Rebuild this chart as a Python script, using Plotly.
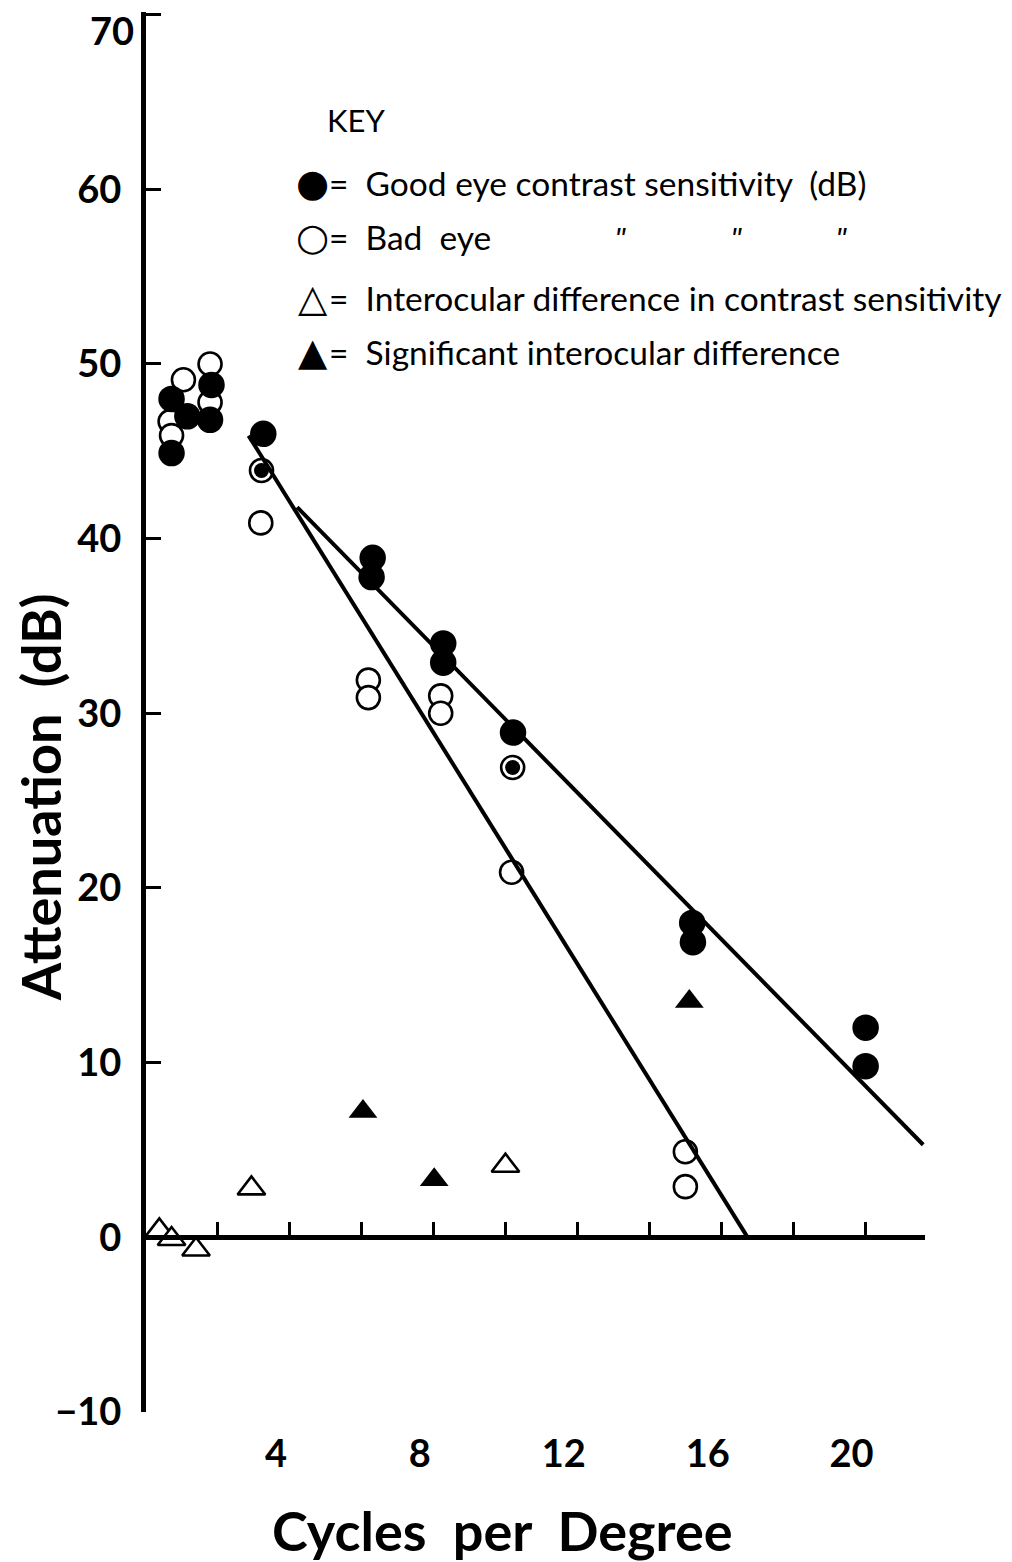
import plotly.graph_objects as go

# ---------------- data ----------------
# Good eye contrast sensitivity (dB)
good_x = [0.71, 0.71, 1.15, 1.82, 1.78, 3.26, 3.21, 6.30, 6.27, 8.26, 8.26,
          10.20, 10.19, 15.18, 15.20, 20.00, 20.00]
good_y = [44.9, 48.0, 47.0, 48.8, 46.8, 46.0, 43.9, 38.9, 37.8, 34.0, 32.9,
          28.9, 26.9, 18.0, 16.9, 12.0, 9.8]

# Bad eye contrast sensitivity (dB)
bad_x = [0.67, 0.71, 1.04, 1.78, 1.78, 3.21, 3.19, 6.18, 6.18, 8.19, 8.19,
         10.19, 10.16, 14.99, 14.99]
bad_y = [46.7, 45.9, 49.1, 50.0, 47.8, 43.9, 40.9, 31.9, 30.9, 31.0, 30.0,
         26.9, 20.9, 4.9, 2.9]

# Interocular difference in contrast sensitivity (not significant)
diff_x = [0.37, 0.71, 1.39, 2.93, 9.99]
diff_y = [0.4, -0.1, -0.7, 2.8, 4.1]

# Significant interocular difference
sig_x = [6.03, 8.01, 15.10]
sig_y = [7.2, 3.3, 13.5]

# Fitted regression lines (end points)
good_fit_x = [4.2, 21.6]
good_fit_y = [41.8, 5.3]
bad_fit_x = [2.85, 16.72]
bad_fit_y = [45.9, 0.0]

# Axis ticks
x_label_vals = [4, 8, 12, 16, 20]
x_tick_marks = [2, 4, 6, 8, 10, 12, 14, 16, 18, 20]
y_tick_vals = [-10, 0, 10, 20, 30, 40, 50, 60, 70]
y_top_label = 70          # top label sits a little below its tick in the original

x_range = [0, 21.65]
y_range = [-10, 70.15]

# Key text
key_title = "KEY"
key_rows = [
    ("\u25CF", "=  Good eye contrast sensitivity  (dB)"),
    ("\u25CB", "=  Bad  eye"),
    ("\u25B3", "=  Interocular difference in contrast sensitivity"),
    ("\u25B2", "=  Significant interocular difference"),
]
ditto = "\u02BA"

# ---------------- geometry ----------------
PAGE = 8                      # default body margin of the html page
W, H = 1012 - PAGE, 1562 - PAGE
X0_PX, PX_PER_X = 146, 36.0   # page pixel of x = 0, pixels per cycle/deg
Y0_PX, PX_PER_Y = 1237, 17.46 # page pixel of y = 0, pixels per dB

ML = X0_PX - PAGE
PW = (x_range[1] - x_range[0]) * PX_PER_X
MR = W - ML - PW
top_px = Y0_PX - y_range[1] * PX_PER_Y
bot_px = Y0_PX - y_range[0] * PX_PER_Y
MT = top_px - PAGE
PH = bot_px - top_px
MB = H - MT - PH


def paper(px, py):
    """page pixel -> paper fraction"""
    return (px - PAGE - ML) / PW, (PAGE + MT + PH - py) / PH


FONT = "Lato"
BLACK = "black"
TICK_FONT = dict(family=FONT, size=38, color=BLACK, weight="bold")

fig = go.Figure()

# fitted lines (drawn on the overlaid x-axis that sits at y = 0)
fig.add_trace(go.Scatter(x=bad_fit_x, y=bad_fit_y, mode="lines", xaxis="x2",
                         line=dict(color=BLACK, width=4), showlegend=False,
                         hoverinfo="skip"))
fig.add_trace(go.Scatter(x=good_fit_x, y=good_fit_y, mode="lines", xaxis="x2",
                         line=dict(color=BLACK, width=4), showlegend=False,
                         hoverinfo="skip"))

# bad eye: open circles
fig.add_trace(go.Scatter(x=bad_x, y=bad_y, mode="markers", name="Bad eye",
                         marker=dict(symbol="circle", size=23, color="white",
                                     opacity=1,
                                     line=dict(color=BLACK, width=2.6)),
                         showlegend=False))

# good eye: filled circles (smaller dot where it coincides with the bad eye)
coincide = set(zip(bad_x, bad_y))
good_sizes = [15 if (x, y) in coincide else 26.5 for x, y in zip(good_x, good_y)]
fig.add_trace(go.Scatter(x=good_x, y=good_y, mode="markers", name="Good eye",
                         marker=dict(symbol="circle", size=good_sizes, color=BLACK,
                                     opacity=1, line=dict(width=0)),
                         showlegend=False))

# interocular difference: open triangles
fig.add_trace(go.Scatter(x=diff_x, y=diff_y, mode="markers",
                         name="Interocular difference",
                         marker=dict(symbol="triangle-up", size=24, color="white",
                                     opacity=1,
                                     line=dict(color=BLACK, width=2.6)),
                         showlegend=False))

# significant difference: filled triangles
fig.add_trace(go.Scatter(x=sig_x, y=sig_y, mode="markers",
                         name="Significant interocular difference",
                         marker=dict(symbol="triangle-up", size=25, color=BLACK,
                                     opacity=1, line=dict(width=0)),
                         showlegend=False))

annotations = []

# axis titles
ax, ay = paper(40, 797)
annotations.append(dict(text="Attenuation  (dB)", x=ax, y=ay, xref="paper", yref="paper",
                        textangle=-90, showarrow=False, xanchor="center", yanchor="middle",
                        font=dict(family=FONT, size=54, color=BLACK, weight="bold")))
ax, ay = paper(503, 1530)
annotations.append(dict(text="Cycles  per  Degree", x=ax, y=ay, xref="paper", yref="paper",
                        showarrow=False, xanchor="center", yanchor="middle",
                        font=dict(family=FONT, size=54, color=BLACK, weight="bold")))

# top y label (drawn slightly below its tick, as in the original)
ax, _ = paper(136, 0)
annotations.append(dict(text=str(y_top_label), x=ax, y=y_top_label, xref="paper", yref="y",
                        yshift=-15, showarrow=False, xanchor="right", yanchor="middle",
                        font=TICK_FONT))

# key
ax, ay = paper(325, 120)
annotations.append(dict(text=key_title, x=ax, y=ay, xref="paper", yref="paper",
                        showarrow=False, xanchor="left", yanchor="middle",
                        font=dict(family=FONT, size=31, color=BLACK)))
row_y = [183, 237, 298, 352]
for (glyph, label), ry in zip(key_rows, row_y):
    gx, gy = paper(313, ry)
    annotations.append(dict(text=glyph, x=gx, y=gy, xref="paper", yref="paper",
                            showarrow=False, xanchor="center", yanchor="middle",
                            font=dict(family="DejaVu Sans", size=38, color=BLACK)))
    tx, ty = paper(327, ry)
    annotations.append(dict(text=label, x=tx, y=ty, xref="paper", yref="paper",
                            showarrow=False, xanchor="left", yanchor="middle",
                            font=dict(family=FONT, size=33.5, color=BLACK)))
for dxp in [622, 738, 843]:
    gx, gy = paper(dxp, 242)
    annotations.append(dict(text=ditto, x=gx, y=gy, xref="paper", yref="paper",
                            showarrow=False, xanchor="center", yanchor="middle",
                            font=dict(family="DejaVu Sans", size=28, color=BLACK)))

y_tick_text = ["" if v == y_top_label else str(v).replace("-", "\u2212")
               for v in y_tick_vals]

fig.update_layout(
    width=W, height=H,
    margin=dict(l=ML, r=MR, t=MT, b=MB, pad=0, autoexpand=False),
    paper_bgcolor="white", plot_bgcolor="white",
    showlegend=False,
    font=dict(family=FONT, color=BLACK),
    xaxis=dict(range=x_range, showline=False, showgrid=False, zeroline=False,
               tickmode="array", tickvals=x_label_vals, ticks="",
               ticklabelstandoff=16, ticklabelshift=-14,
               tickfont=TICK_FONT),
    xaxis2=dict(range=x_range, matches="x", overlaying="x", anchor="free",
                position=(0 - y_range[0]) / (y_range[1] - y_range[0]),
                side="bottom", showline=True, linewidth=5, linecolor=BLACK,
                showgrid=False, zeroline=False, tickmode="array",
                tickvals=x_tick_marks, ticks="inside", ticklen=13, tickwidth=3,
                tickcolor=BLACK, showticklabels=False),
    yaxis=dict(range=y_range, showline=True, linewidth=5, linecolor=BLACK,
               showgrid=False, zeroline=False, tickmode="array",
               tickvals=y_tick_vals, ticktext=y_tick_text,
               ticks="inside", ticklen=15, tickwidth=3,
               tickcolor=BLACK, ticklabelstandoff=12,
               tickfont=TICK_FONT),
    annotations=annotations,
)

fig.write_html("out.html")
